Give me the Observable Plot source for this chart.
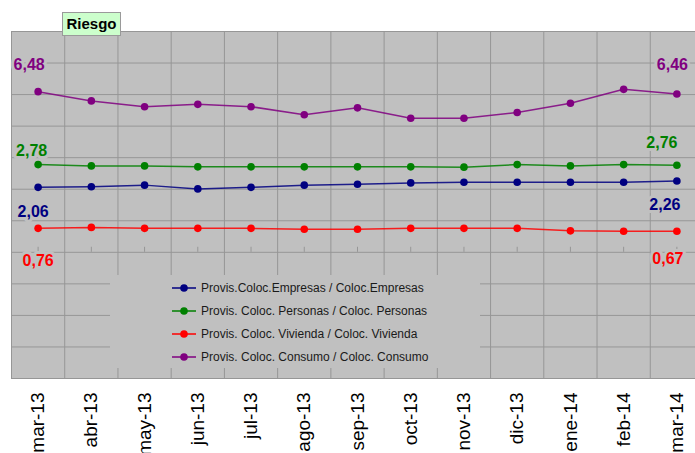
<!DOCTYPE html>
<html>
<head>
<meta charset="utf-8">
<script src="https://cdn.jsdelivr.net/npm/d3@7"></script>
<script src="https://cdn.jsdelivr.net/npm/@observablehq/plot@0.6"></script>
<style>
  html, body { margin: 0; padding: 0; background: #fff; overflow: hidden; }
  #wrap { position: relative; width: 695px; height: 453px; overflow: hidden; }
  #wrap > svg { position: absolute; left: 0; top: 0; max-width: none !important; }
  #title { position: absolute; left: 62px; top: 12px; width: 57px; height: 22px; background: #ccffcc; border: 1px solid #9a9a9a;
           font: bold 15px "Liberation Sans", Arial, sans-serif; line-height: 22px; text-align: center; color: #000; z-index: 5; }
  #legend { position: absolute; left: 110px; top: 275px; width: 370px; height: 93px; background: #c0c0c0; z-index: 4;
            font: 12px "Liberation Sans", Arial, sans-serif; color: #1a1a1a; }
  #legend .item { position: absolute; left: 61px; height: 14px; display: flex; align-items: center; white-space: nowrap; }
  #legend .item svg { position: static; margin-right: 4px; flex: none; }
</style>
</head>
<body>
<div id="wrap">
  <div id="title">Riesgo</div>
  <div id="legend"></div>
</div>
<script>
// ---- data ----
const months = ["mar-13","abr-13","may-13","jun-13","jul-13","ago-13","sep-13","oct-13","nov-13","dic-13","ene-14","feb-14","mar-14"];
const empresas = [2.06, 2.08, 2.13, 2.01, 2.06, 2.13, 2.16, 2.20, 2.22, 2.22, 2.22, 2.22, 2.26];
const personas = [2.78, 2.74, 2.74, 2.71, 2.71, 2.71, 2.71, 2.71, 2.70, 2.78, 2.74, 2.78, 2.76];
const vivienda = [0.76, 0.79, 0.76, 0.76, 0.76, 0.73, 0.73, 0.76, 0.76, 0.76, 0.68, 0.67, 0.67];
const consumo  = [6.48, 6.40, 6.35, 6.37, 6.35, 6.28, 6.34, 6.25, 6.25, 6.30, 6.38, 6.50, 6.46];
const seriesNames = [
  "Provis.Coloc.Empresas / Coloc.Empresas",
  "Provis. Coloc. Personas / Coloc. Personas",
  "Provis. Coloc. Vivienda / Coloc. Vivienda",
  "Provis. Coloc. Consumo / Coloc. Consumo"
];
const seriesColors = ["#000080", "#008000", "#ff0000", "#800080"];
const primaryDomain = [-4, 7];
const secondaryDomain = [4, 7];

// ---- helpers ----
const idx = months.map((_, i) => i);
const rows = vals => vals.map((v, i) => ({i, v}));
const fmt = v => d3.format(".2f")(v).replace(".", ",");
const bounds = d3.range(months.length + 1).map(i => i - 0.5);
const BG = "#c0c0c0", GRID = "#969696";
const labelFont = {fontFamily: "'Liberation Sans Narrow', 'Arial Narrow', 'Liberation Sans', Arial, sans-serif", fontWeight: "bold", fontSize: 16, stroke: BG, strokeWidth: 6};

const common = {
  width: 703, height: 453,
  marginLeft: 11, marginRight: 0, marginTop: 31, marginBottom: 75,
  x: {type: "linear", domain: [-0.5, months.length - 0.5], axis: null},
  style: {background: "transparent", overflow: "visible", maxWidth: "none"}
};

function seriesMarks(vals, color, labelFirst, labelLast) {
  const r = rows(vals);
  return [
    Plot.line(r, {x: "i", y: "v", stroke: color, strokeWidth: 1.5, strokeOpacity: 0.85}),
    Plot.dot(r, {x: "i", y: "v", r: 3.8, fill: color}),
    Plot.text([r[0]], {x: "i", y: "v", text: d => fmt(d.v), fill: color, ...labelFont, ...labelFirst}),
    Plot.text([r[r.length - 1]], {x: "i", y: "v", text: d => fmt(d.v), fill: color, ...labelFont, ...labelLast})
  ];
}

const primary = Plot.plot({
  ...common,
  y: {domain: primaryDomain, axis: null},
  marks: [
    Plot.frame({fill: BG, stroke: null}),
    Plot.ruleY(d3.range(primaryDomain[0], primaryDomain[1] + 1), {stroke: GRID}),
    Plot.ruleX(bounds, {stroke: GRID}),
    Plot.ruleX(idx, {x: d => d, y1: 0, y2: 0.16, stroke: GRID}),
    Plot.axisX(idx, {tickFormat: i => months[i], tickRotate: -90, tickSize: 0, tickPadding: 14, label: null,
                     fontSize: 19, fontFamily: "'Liberation Sans', Arial, sans-serif", fill: "#000"}),
    ...seriesMarks(empresas, seriesColors[0], {dx: -5, dy: 25}, {dx: -12, dy: 23.5}),
    ...seriesMarks(personas, seriesColors[1], {dx: -6.5, dy: -13.5}, {dx: -15, dy: -22}),
    ...seriesMarks(vivienda, seriesColors[2], {dx: 0, dy: 33}, {dx: -9, dy: 28})
  ]
});

const secondary = Plot.plot({
  ...common,
  y: {domain: secondaryDomain, axis: null},
  marks: [
    ...seriesMarks(consumo, seriesColors[3], {dx: -9, dy: -26.7}, {dx: -4.5, dy: -29.5})
  ]
});

const wrap = document.getElementById("wrap");
wrap.insertBefore(primary, wrap.firstChild);
wrap.insertBefore(secondary, primary.nextSibling);

// legend
const legend = document.getElementById("legend");
const rowCenters = [13, 36, 59, 82];
seriesNames.forEach((name, k) => {
  const item = document.createElement("div");
  item.className = "item";
  item.style.top = (rowCenters[k] - 7) + "px";
  item.innerHTML = `<svg width="26" height="10"><line x1="1" x2="25" y1="5" y2="5" stroke="${seriesColors[k]}" stroke-width="1.5"/><circle cx="13" cy="5" r="3.8" fill="${seriesColors[k]}"/></svg><span>${name}</span>`;
  legend.appendChild(item);
});
</script>
</body>
</html>
